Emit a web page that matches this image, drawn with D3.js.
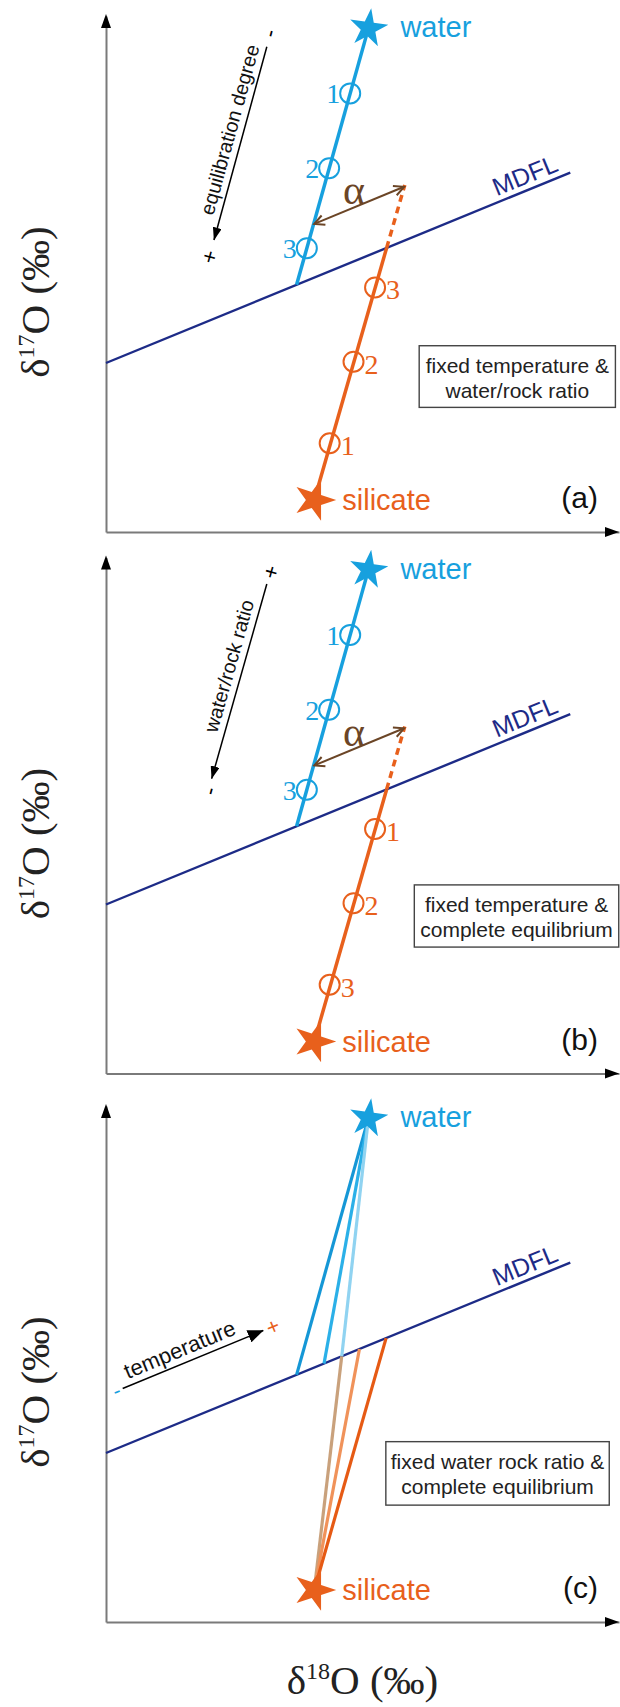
<!DOCTYPE html>
<html><head><meta charset="utf-8">
<script src="https://cdn.jsdelivr.net/npm/d3@7"></script>
<style>html,body{margin:0;padding:0;background:#fff}svg{display:block}</style>
</head><body>
<svg id="chart" width="620" height="1707"></svg>
<script>
// ---------------- data (schematic δ18O / δ17O units) ----------------
const xDomain = [0, 20];
const yDomain = [0, 20];
const waterPoint = [10.23, 19.52];
const silicatePoint = [8.12, 1.24];
const mdflLine = [[0, 6.55], [18.1, 13.93]];
const waterMixEnd = [7.43, 9.58];
const silicateMixEnd = [10.94, 11.01];
const silicateDashEnd = [11.65, 13.45];
const waterSteps = [[9.52, 17.0], [8.70, 14.1], [7.83, 11.0]];
const silicateSteps = [[10.49, 9.48], [9.65, 6.60], [8.72, 3.44]];
const waterStepLabels = ['1', '2', '3'];
const silicateStepLabelsA = ['3', '2', '1'];
const silicateStepLabelsB = ['1', '2', '3'];
const alphaArrow = [[8.12, 11.94], [11.62, 13.38]];
const trendArrowA = [[4.21, 11.32], [6.27, 18.81]];
const trendArrowB = [[4.12, 11.43], [6.27, 18.97]];
const trendArrowC = [[0.65, 9.05], [6.13, 11.30]];
const tempWaterEnds = [7.43, 8.50, 9.19];
const tempSilicateEnds = [9.19, 9.88, 10.92];
const panelLetters = ['(a)', '(b)', '(c)'];
const boxTexts = [
  ['fixed temperature &', 'water/rock ratio'],
  ['fixed temperature &', 'complete equilibrium'],
  ['fixed water rock ratio &', 'complete equilibrium']
];
const trendLabels = ['equilibration degree', 'water/rock ratio', 'temperature'];
const trendSigns = [['+', '-'], ['-', '+'], ['-', '+']]; // [tail/arrow-start end, far end]

// ---------------- layout / style ----------------
const LAY = {
  x0: 106, x1: 619, panelH: 516,
  bottoms: [532, 1073.5, 1622],
  boxes: [[12.21, 7.22, 19.86, 4.83], [12.02, 7.31, 19.99, 4.90], [10.91, 6.99, 19.62, 4.53]],
  trendText: [[5.35, 15.45], [5.32, 15.65], [3.09, 10.04]],
  signStart: [[4.03, 10.67], [4.04, 10.95], [0.41, 8.98]],
  signEnd: [[6.37, 19.33], [6.43, 19.44], [6.50, 11.45]],
  alphaText: [9.67, 12.71],
  mdflLabelU: 16.55
};
const COL = {
  water: '#17a0de', orange: '#e8601c', navy: '#1d2b87', brown: '#6b4526',
  axis: '#7a7a7a', text: '#222',
  waterShades: ['#1597d6', '#2bb0e8', '#90d3f1'],
  silicateShades: ['#c9a17c', '#f0925a', '#e65a14']
};
const SANS = '"Liberation Sans", Arial, Helvetica, sans-serif';
const SERIF = '"Liberation Serif", "Times New Roman", serif';

const svg = d3.select('#chart');
const defs = svg.append('defs');
function triMarker(id, len, wid, color) {
  defs.append('marker').attr('id', id)
    .attr('viewBox', `0 0 ${len} ${wid}`).attr('refX', len - 0.5).attr('refY', wid / 2)
    .attr('markerWidth', len).attr('markerHeight', wid)
    .attr('markerUnits', 'userSpaceOnUse').attr('orient', 'auto-start-reverse')
    .append('path').attr('d', `M0,0L${len},${wid / 2}L0,${wid}Z`).attr('fill', color);
}
triMarker('triSmall', 13, 9, '#000');
triMarker('triBig', 16, 13, '#000');
defs.append('marker').attr('id', 'chev')
  .attr('viewBox', '-2 -2 14 14').attr('refX', 10).attr('refY', 5)
  .attr('markerWidth', 14).attr('markerHeight', 14)
  .attr('markerUnits', 'userSpaceOnUse').attr('orient', 'auto-start-reverse')
  .append('path').attr('d', 'M0,0L10,5L0,10').attr('fill', 'none')
  .attr('stroke', COL.brown).attr('stroke-width', 2);

const waterStar = d3.symbol().type(d3.symbolStar).size(460)();
const silicateStar = d3.symbol().type(d3.symbolStar).size(540)();
const mdflSlope = (mdflLine[1][1] - mdflLine[0][1]) / (mdflLine[1][0] - mdflLine[0][0]);
const mdfl = u => mdflLine[0][1] + mdflSlope * (u - mdflLine[0][0]);

LAY.bottoms.forEach((b, i) => {
  const g = svg.append('g');
  const x = d3.scaleLinear().domain(xDomain).range([LAY.x0, LAY.x1]);
  const y = d3.scaleLinear().domain(yDomain).range([b, b - LAY.panelH]);
  const line = d3.line().x(d => x(d[0])).y(d => y(d[1]));

  // axes (no ticks) + arrow heads
  g.append('g').attr('transform', `translate(0,${b})`)
    .call(d3.axisBottom(x).tickValues([]).tickSizeOuter(0))
    .call(s => s.select('.domain').attr('stroke', COL.axis).attr('stroke-width', 2));
  g.append('g').attr('transform', `translate(${LAY.x0},0)`)
    .call(d3.axisLeft(y).tickValues([]).tickSizeOuter(0))
    .call(s => s.select('.domain').attr('stroke', COL.axis).attr('stroke-width', 2));
  const xe = x(xDomain[1]), yt = y(yDomain[1]);
  g.append('path').attr('d', `M${xe},${b}L${xe - 14},${b - 5}L${xe - 14},${b + 5}Z`).attr('fill', '#000');
  g.append('path').attr('d', `M${LAY.x0},${yt - 2}L${LAY.x0 - 5},${yt + 12}L${LAY.x0 + 5},${yt + 12}Z`).attr('fill', '#000');

  // y label
  const yl = g.append('text').attr('transform', `translate(49,${b - 230}) rotate(-90)`)
    .attr('text-anchor', 'middle').style('font-family', SERIF).style('font-size', '41px').attr('fill', COL.text);
  yl.append('tspan').text('δ');
  yl.append('tspan').attr('dy', -15).style('font-size', '24px').text('17');
  yl.append('tspan').attr('dy', 15).text('O (‰)');

  // MDFL
  g.append('path').attr('d', line(mdflLine)).attr('fill', 'none')
    .attr('stroke', COL.navy).attr('stroke-width', 2.4);
  const ang = Math.atan2(y(mdflLine[1][1]) - y(mdflLine[0][1]), x(mdflLine[1][0]) - x(mdflLine[0][0])) * 180 / Math.PI;
  g.append('text').attr('transform', `translate(${x(LAY.mdflLabelU)},${y(mdfl(LAY.mdflLabelU))}) rotate(${ang})`)
    .attr('dy', -6).attr('text-anchor', 'middle').style('font-family', SANS).style('font-size', '25px')
    .attr('fill', COL.navy).text('MDFL');

  if (i < 2) {
    g.append('path').attr('d', line([waterPoint, waterMixEnd])).attr('stroke', COL.water)
      .attr('stroke-width', 3.5).attr('fill', 'none');
    g.append('path').attr('d', line([silicatePoint, silicateMixEnd])).attr('stroke', COL.orange)
      .attr('stroke-width', 3.5).attr('fill', 'none');
    g.append('path').attr('d', line([silicateMixEnd, silicateDashEnd])).attr('stroke', COL.orange)
      .attr('stroke-width', 3.5).attr('stroke-dasharray', '7,5').attr('fill', 'none');
    // steps
    g.selectAll(null).data(waterSteps).join('circle')
      .attr('cx', d => x(d[0])).attr('cy', d => y(d[1])).attr('r', 10)
      .attr('fill', 'none').attr('stroke', COL.water).attr('stroke-width', 2);
    g.selectAll(null).data(waterSteps).join('text')
      .attr('x', d => x(d[0]) - 10).attr('y', d => y(d[1]) + 10).attr('text-anchor', 'end')
      .style('font-family', SERIF).style('font-size', '28px').attr('fill', COL.water)
      .text((d, k) => waterStepLabels[k]);
    const sl = i === 0 ? silicateStepLabelsA : silicateStepLabelsB;
    g.selectAll(null).data(silicateSteps).join('circle')
      .attr('cx', d => x(d[0])).attr('cy', d => y(d[1])).attr('r', 10)
      .attr('fill', 'none').attr('stroke', COL.orange).attr('stroke-width', 2);
    g.selectAll(null).data(silicateSteps).join('text')
      .attr('x', d => x(d[0]) + 11).attr('y', d => y(d[1]) + 12).attr('text-anchor', 'start')
      .style('font-family', SERIF).style('font-size', '28px').attr('fill', COL.orange)
      .text((d, k) => sl[k]);
    // alpha arrow
    g.append('path').attr('d', line(alphaArrow)).attr('stroke', COL.brown).attr('stroke-width', 2)
      .attr('fill', 'none').attr('marker-start', 'url(#chev)').attr('marker-end', 'url(#chev)');
    g.append('text').attr('x', x(LAY.alphaText[0])).attr('y', y(LAY.alphaText[1]))
      .attr('text-anchor', 'middle').style('font-family', SERIF).style('font-size', '42px')
      .attr('fill', COL.brown).text('α');
  } else {
    tempWaterEnds.forEach((u, k) => {
      g.append('path').attr('d', line([waterPoint, [u, mdfl(u)]])).attr('stroke', COL.waterShades[k])
        .attr('stroke-width', 3.2).attr('fill', 'none');
    });
    tempSilicateEnds.forEach((u, k) => {
      g.append('path').attr('d', line([silicatePoint, [u, mdfl(u)]])).attr('stroke', COL.silicateShades[k])
        .attr('stroke-width', 3.2).attr('fill', 'none');
    });
  }

  // trend arrow
  const tr = [trendArrowA, trendArrowB, trendArrowC][i];
  const p0 = [x(tr[0][0]), y(tr[0][1])], p1 = [x(tr[1][0]), y(tr[1][1])];
  const tAng = Math.atan2(p1[1] - p0[1], p1[0] - p0[0]) * 180 / Math.PI;
  const ap = g.append('path').attr('d', line(tr)).attr('stroke', '#000').attr('stroke-width', 1.5).attr('fill', 'none');
  if (i < 2) ap.attr('marker-start', 'url(#triSmall)'); else ap.attr('marker-end', 'url(#triBig)');
  const tt = LAY.trendText[i];
  g.append('text').attr('transform', `translate(${x(tt[0])},${y(tt[1])}) rotate(${tAng})`)
    .attr('dy', -7).attr('text-anchor', 'middle').style('font-family', SANS)
    .style('font-size', i < 2 ? '20px' : '22px').attr('fill', '#111').text(trendLabels[i]);
  const signs = trendSigns[i];
  const signCols = i < 2 ? ['#000', '#000'] : [COL.water, COL.orange];
  [LAY.signStart[i], LAY.signEnd[i]].forEach((s, k) => {
    g.append('text').attr('transform', `translate(${x(s[0])},${y(s[1])}) rotate(${tAng})`)
      .attr('text-anchor', 'middle').attr('dominant-baseline', 'central')
      .style('font-family', SANS).style('font-size', '22px').attr('fill', signCols[k]).text(signs[k]);
  });

  // stars + labels
  g.append('path').attr('d', waterStar).attr('fill', COL.water)
    .attr('transform', `translate(${x(waterPoint[0])},${y(waterPoint[1])}) rotate(8)`);
  g.append('text').attr('x', x(waterPoint[0]) + 32).attr('y', y(waterPoint[1]) + 9)
    .style('font-family', SANS).style('font-size', '29px').attr('fill', COL.water).text('water');
  g.append('path').attr('d', silicateStar).attr('fill', COL.orange)
    .attr('transform', `translate(${x(silicatePoint[0])},${y(silicatePoint[1])}) rotate(18)`);
  g.append('text').attr('x', x(silicatePoint[0]) + 28).attr('y', y(silicatePoint[1]) + 10)
    .style('font-family', SANS).style('font-size', '29px').attr('fill', COL.orange).text('silicate');

  // box
  const bx = LAY.boxes[i];
  const bx0 = x(bx[0]), by0 = y(bx[1]), bx1 = x(bx[2]), by1 = y(bx[3]);
  g.append('rect').attr('x', bx0).attr('y', by0).attr('width', bx1 - bx0).attr('height', by1 - by0)
    .attr('fill', '#fff').attr('stroke', '#444').attr('stroke-width', 1.4);
  const mid = (by0 + by1) / 2;
  boxTexts[i].forEach((t, k) => {
    g.append('text').attr('x', (bx0 + bx1) / 2).attr('y', mid + (k === 0 ? -4 : 21))
      .attr('text-anchor', 'middle').style('font-family', SANS).style('font-size', '21px')
      .attr('fill', COL.text).text(t);
  });

  // panel letter
  g.append('text').attr('x', xe - 21).attr('y', b - 24).attr('text-anchor', 'end')
    .style('font-family', SANS).style('font-size', '30px').attr('fill', '#111').text(panelLetters[i]);

  if (i === 2) {
    const xl = g.append('text').attr('x', x(10)).attr('y', b + 72).attr('text-anchor', 'middle')
      .style('font-family', SERIF).style('font-size', '41px').attr('fill', COL.text);
    xl.append('tspan').text('δ');
    xl.append('tspan').attr('dy', -15).style('font-size', '24px').text('18');
    xl.append('tspan').attr('dy', 15).text('O (‰)');
  }
});
</script>
</body></html>
